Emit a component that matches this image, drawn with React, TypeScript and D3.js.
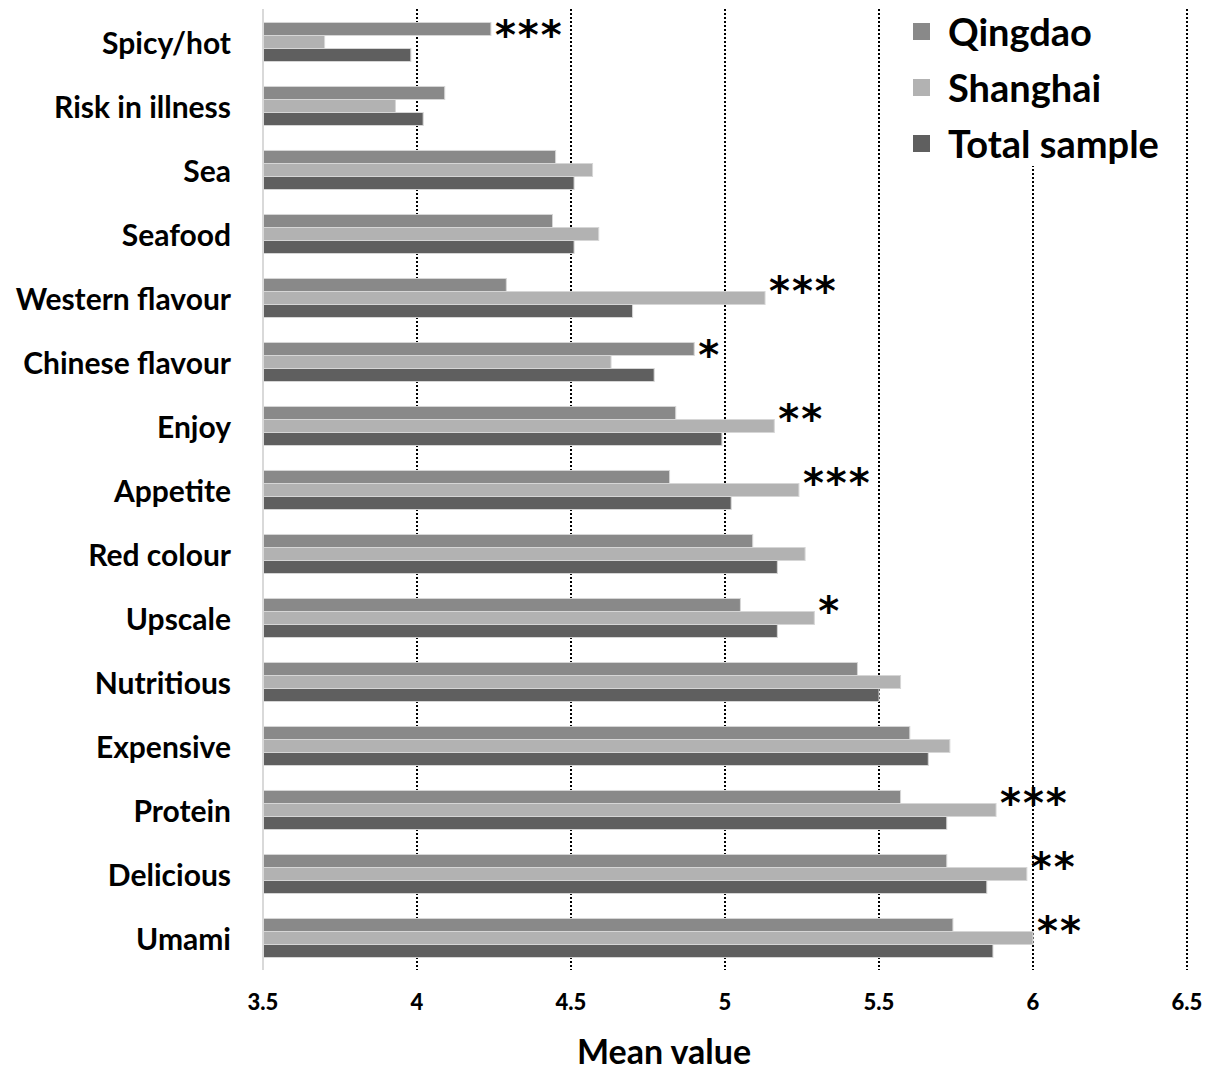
import * as d3 from "d3";

const categories = [
  "Spicy/hot",
  "Risk in illness",
  "Sea",
  "Seafood",
  "Western flavour",
  "Chinese flavour",
  "Enjoy",
  "Appetite",
  "Red colour",
  "Upscale",
  "Nutritious",
  "Expensive",
  "Protein",
  "Delicious",
  "Umami",
];

const qingdao = [4.24, 4.09, 4.45, 4.44, 4.29, 4.9, 4.84, 4.82, 5.09, 5.05, 5.43, 5.6, 5.57, 5.72, 5.74];
const shanghai = [3.7, 3.93, 4.57, 4.59, 5.13, 4.63, 5.16, 5.24, 5.26, 5.29, 5.57, 5.73, 5.88, 5.98, 6.0];
const totalSample = [3.98, 4.02, 4.51, 4.51, 4.7, 4.77, 4.99, 5.02, 5.17, 5.17, 5.5, 5.66, 5.72, 5.85, 5.87];
const significance = ["***", "", "", "", "***", "*", "**", "***", "", "*", "", "", "***", "**", "**"];

const seriesNames = ["Qingdao", "Shanghai", "Total sample"];
const seriesColors = ["#898989", "#b2b2b2", "#5f5f5f"];
const xTicks = [3.5, 4, 4.5, 5, 5.5, 6, 6.5];

const WIDTH = 1210;
const HEIGHT = 1072;
const FONT = "Lato, 'Open Sans', sans-serif";

export default function App() {
  const x = d3.scaleLinear().domain([3.5, 6.5]).range([263, 1187]);
  const y = d3
    .scaleBand<string>()
    .domain(categories)
    .range([10, 970])
    .paddingInner(0.39)
    .paddingOuter(0.195);
  const inner = d3
    .scaleBand<number>()
    .domain([0, 1, 2])
    .range([0, y.bandwidth()]);

  const series = [qingdao, shanghai, totalSample];

  return (
    <div style={{ position: "absolute", left: 0, top: 0 }}>
      <svg width={WIDTH} height={HEIGHT} style={{ display: "block", background: "#fff" }}>
        {/* dotted grid lines */}
        {xTicks.slice(1).map((t) => (
          <line
            key={t}
            x1={x(t)}
            x2={x(t)}
            y1={9}
            y2={970}
            stroke="#000"
            strokeWidth={2}
            strokeDasharray="2,2"
          />
        ))}

        {/* legend box hides grid behind it */}
        <rect x={890} y={0} width={292} height={166} fill="#fff" />
        {seriesNames.map((name, i) => (
          <g key={name} transform={`translate(913, ${31 + i * 56})`}>
            <rect x={0} y={-8} width={17} height={17} fill={seriesColors[i]} />
            <text
              x={35}
              y={0}
              dominantBaseline="central"
              fontFamily={FONT}
              fontWeight={700}
              fontSize={38}
              fill="#000"
            >
              {name}
            </text>
          </g>
        ))}

        {/* bars */}
        {categories.map((cat, ci) => (
          <g key={cat} transform={`translate(0, ${y(cat)})`}>
            {series.map((vals, si) => (
              <rect
                key={si}
                x={x(3.5)}
                y={inner(si)}
                width={x(vals[ci]) - x(3.5)}
                height={inner.bandwidth()}
                fill={seriesColors[si]}
                stroke="#d6d6d6"
                strokeWidth={1}
              />
            ))}
            {significance[ci] && (
              <text
                x={x(Math.max(qingdao[ci], shanghai[ci], totalSample[ci])) + 4}
                y={(inner(0) ?? 0) + inner.bandwidth() / 2 + 6}
                dominantBaseline="central"
                fontFamily="'DejaVu Sans', sans-serif"
                fontWeight={700}
                fontSize={40}
                letterSpacing={2}
                fill="#000"
              >
                {significance[ci]}
              </text>
            )}
            <text
              x={231}
              y={y.bandwidth() / 2}
              textAnchor="end"
              dominantBaseline="central"
              fontFamily={FONT}
              fontWeight={700}
              fontSize={30}
              fill="#000"
            >
              {cat}
            </text>
          </g>
        ))}

        {/* y axis line */}
        <line x1={x(3.5)} x2={x(3.5)} y1={9} y2={970} stroke="#d9d9d9" strokeWidth={2} />

        {/* x tick labels */}
        {xTicks.map((t) => (
          <text
            key={t}
            x={x(t)}
            y={1001}
            textAnchor="middle"
            dominantBaseline="central"
            fontFamily={FONT}
            fontWeight={900}
            fontSize={22}
            fill="#000"
          >
            {t}
          </text>
        ))}

        <text
          x={664}
          y={1050}
          textAnchor="middle"
          dominantBaseline="central"
          fontFamily={FONT}
          fontWeight={700}
          fontSize={34}
          fill="#000"
        >
          Mean value
        </text>
      </svg>
    </div>
  );
}
